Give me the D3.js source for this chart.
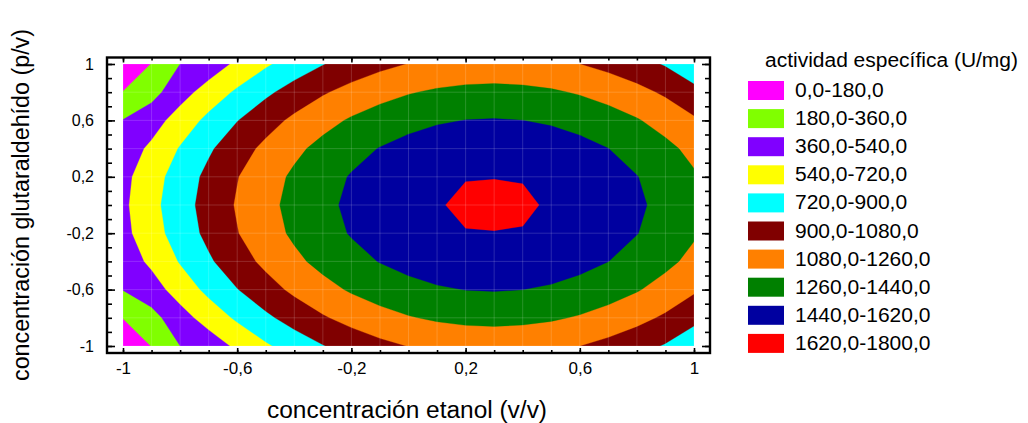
<!DOCTYPE html>
<html>
<head>
<meta charset="utf-8">
<script src="https://cdn.jsdelivr.net/npm/d3@7"></script>
<style>
  html, body { margin: 0; padding: 0; background: #fff; }
  svg { display: block; font-family: "Liberation Sans", Arial, sans-serif; }
</style>
</head>
<body>
<svg id="chart" width="1028" height="423"></svg>
<script>
// Factor levels (coded units) of the response-surface grid
const etanol = [-1, -0.9, -0.8, -0.7, -0.6, -0.5, -0.4, -0.3, -0.2, -0.1, 0,
                0.1, 0.2, 0.3, 0.4, 0.5, 0.6, 0.7, 0.8, 0.9, 1];
const glutaraldehido = [1, 0.8, 0.6, 0.4, 0.2, 0, -0.2, -0.4, -0.6, -0.8, -1];

// Estimated specific activity (U/mg); one row per glutaraldehyde level, one column per ethanol level
const actividad = [
  [30, 185, 360, 439, 574, 695, 801, 893, 971, 1035, 1084, 1119, 1140, 1146, 1138, 1116, 1080, 1029, 964, 885, 791],
  [185, 300, 468, 615, 748, 866, 971, 1062, 1138, 1200, 1249, 1283, 1304, 1310, 1302, 1281, 1245, 1195, 1131, 1053, 945],
  [365, 461, 619, 764, 895, 1012, 1115, 1204, 1280, 1341, 1389, 1423, 1443, 1449, 1441, 1420, 1385, 1336, 1273, 1196, 1105],
  [440, 575, 732, 875, 1004, 1120, 1222, 1310, 1385, 1446, 1493, 1527, 1547, 1553, 1545, 1524, 1489, 1441, 1378, 1302, 1213],
  [490, 646, 802, 944, 1073, 1188, 1289, 1377, 1451, 1512, 1559, 1592, 1617, 1618, 1616, 1589, 1555, 1506, 1444, 1369, 1280],
  [505, 669, 825, 967, 1095, 1210, 1312, 1399, 1473, 1534, 1581, 1614, 1634, 1640, 1632, 1611, 1577, 1528, 1467, 1391, 1302],
  [490, 646, 802, 944, 1073, 1188, 1289, 1377, 1451, 1512, 1559, 1592, 1617, 1618, 1616, 1589, 1555, 1506, 1444, 1369, 1280],
  [440, 575, 732, 875, 1004, 1120, 1222, 1310, 1385, 1446, 1493, 1527, 1547, 1553, 1545, 1524, 1489, 1441, 1378, 1302, 1213],
  [365, 461, 619, 764, 895, 1012, 1115, 1204, 1280, 1341, 1389, 1423, 1443, 1449, 1441, 1420, 1385, 1336, 1273, 1196, 1105],
  [185, 300, 468, 615, 748, 866, 971, 1062, 1138, 1200, 1249, 1283, 1304, 1310, 1302, 1281, 1245, 1195, 1131, 1053, 945],
  [30, 185, 360, 439, 574, 695, 801, 893, 971, 1035, 1084, 1119, 1140, 1146, 1138, 1116, 1080, 1029, 964, 885, 791]
];

// Contour levels and their band colours
const niveles = [0, 180, 360, 540, 720, 900, 1080, 1260, 1440, 1620];
const colores = ["#ff00ff", "#80ff00", "#8000ff", "#ffff00", "#00ffff",
                 "#800000", "#ff8000", "#008000", "#0000a0", "#ff0000"];
const etiquetasLeyenda = ["0,0-180,0", "180,0-360,0", "360,0-540,0", "540,0-720,0", "720,0-900,0",
                          "900,0-1080,0", "1080,0-1260,0", "1260,0-1440,0", "1440,0-1620,0", "1620,0-1800,0"];

// Axis tick labels
const xTicks = [-1, -0.6, -0.2, 0.2, 0.6, 1];
const yTicks = [1, 0.6, 0.2, -0.2, -0.6, -1];

const svg = d3.select("#chart");
const es = d3.formatLocale({decimal: ",", thousands: ".", grouping: [3], currency: ["", "€"], minus: "-"});
const fmt = es.format(".1~f");

// Plot geometry
const x = d3.scaleLinear().domain([-1, 1]).range([123, 694]);
const y = d3.scaleLinear().domain([-1, 1]).range([346, 64]);
const frame = {left: 107, right: 710, top: 57.5, bottom: 353};

// Grid-index scales used to place the contour geometry
const nx = etanol.length, ny = glutaraldehido.length;
const gx = d3.scaleLinear().domain([0.5, nx - 0.5]).range([x(etanol[0]), x(etanol[nx - 1])]);
const gy = d3.scaleLinear().domain([0.5, ny - 0.5]).range([y(glutaraldehido[0]), y(glutaraldehido[ny - 1])]);

const valores = actividad.flat();
const bandas = d3.contours().size([nx, ny]).thresholds(niveles)(valores);

const path = d3.geoPath(d3.geoTransform({
  point(px, py) { this.stream.point(gx(px), gy(py)); }
}));

svg.append("clipPath").attr("id", "area")
  .append("rect")
  .attr("x", x(-1)).attr("y", y(1))
  .attr("width", x(1) - x(-1)).attr("height", y(-1) - y(1));

const plot = svg.append("g").attr("clip-path", "url(#area)");

plot.selectAll("path.banda")
  .data(bandas)
  .join("path")
  .attr("class", "banda")
  .attr("d", path)
  .attr("fill", (d, i) => colores[i])
  .attr("stroke", (d, i) => colores[i])
  .attr("stroke-width", 0.3);

// Faint mesh lines of the evaluation grid
plot.append("g")
  .selectAll("line")
  .data(etanol)
  .join("line")
  .attr("x1", d => x(d)).attr("x2", d => x(d))
  .attr("y1", y(1)).attr("y2", y(-1))
  .attr("stroke", "#ffffff").attr("stroke-opacity", 0.16).attr("stroke-width", 1);
plot.append("g")
  .selectAll("line")
  .data(glutaraldehido)
  .join("line")
  .attr("y1", d => y(d)).attr("y2", d => y(d))
  .attr("x1", x(-1)).attr("x2", x(1))
  .attr("stroke", "#ffffff").attr("stroke-opacity", 0.16).attr("stroke-width", 1);

// Frame
svg.append("rect")
  .attr("x", frame.left).attr("y", frame.top)
  .attr("width", frame.right - frame.left).attr("height", frame.bottom - frame.top)
  .attr("fill", "none").attr("stroke", "#000").attr("stroke-width", 2.4);

// Inward ticks on all four sides
const minor = d3.range(-10, 11).map(d => d / 10);
function ticks(axisFn, scale, values, size, tx, ty) {
  const g = svg.append("g")
    .attr("transform", `translate(${tx},${ty})`)
    .call(axisFn(scale).tickValues(values).tickSize(size).tickFormat(""));
  g.select(".domain").remove();
  g.selectAll(".tick line").attr("stroke", "#000").attr("stroke-width", 1.6);
}
ticks(d3.axisRight, y, minor, 5, frame.left, 0);
ticks(d3.axisRight, y, yTicks, 8, frame.left, 0);
ticks(d3.axisLeft, y, minor, 5, frame.right, 0);
ticks(d3.axisLeft, y, yTicks, 8, frame.right, 0);
ticks(d3.axisBottom, x, minor, 3, 0, frame.top);
ticks(d3.axisBottom, x, xTicks, 5, 0, frame.top);
ticks(d3.axisTop, x, minor, 3, 0, frame.bottom);
ticks(d3.axisTop, x, xTicks, 5, 0, frame.bottom);

// Tick labels
const xl = svg.append("g")
  .attr("transform", `translate(0,${frame.bottom})`)
  .attr("font-size", 17)
  .call(d3.axisBottom(x).tickValues(xTicks).tickSize(0).tickPadding(9).tickFormat(fmt));
xl.attr("font-size", 17).attr("font-family", "Liberation Sans, Arial, sans-serif");
xl.select(".domain").remove();
xl.selectAll("text").style("font-size", "17px").attr("fill", "#000");

const yl = svg.append("g")
  .attr("transform", `translate(${frame.left},0)`)
  .call(d3.axisLeft(y).tickValues(yTicks).tickSize(0).tickPadding(13).tickFormat(fmt));
yl.attr("font-size", 16).attr("font-family", "Liberation Sans, Arial, sans-serif");
yl.select(".domain").remove();
yl.selectAll("text").style("font-size", "16px").attr("fill", "#000");

// Axis titles
svg.append("text")
  .attr("x", 407).attr("y", 418)
  .attr("text-anchor", "middle")
  .attr("font-size", 23)
  .attr("textLength", 280).attr("lengthAdjust", "spacingAndGlyphs")
  .text("concentración etanol (v/v)");

svg.append("text")
  .attr("transform", "translate(29,205) rotate(-90)")
  .attr("text-anchor", "middle")
  .attr("font-size", 23)
  .attr("textLength", 352).attr("lengthAdjust", "spacingAndGlyphs")
  .text("concentración glutaraldehído (p/v)");

// Legend
const leg = svg.append("g").attr("transform", "translate(748,0)");
leg.append("text")
  .attr("x", 17).attr("y", 67)
  .attr("font-size", 20)
  .attr("textLength", 253).attr("lengthAdjust", "spacingAndGlyphs")
  .text("actividad específica (U/mg)");

const item = leg.selectAll("g.item")
  .data(etiquetasLeyenda)
  .join("g")
  .attr("class", "item")
  .attr("transform", (d, i) => `translate(0,${81 + i * 28.1})`);
item.append("rect")
  .attr("width", 36).attr("height", 19)
  .attr("fill", (d, i) => colores[i]);
item.append("text")
  .attr("x", 47).attr("y", 16)
  .attr("font-size", 20)
  .text(d => d)
  .each(function() {
    const w = this.getComputedTextLength();
    d3.select(this).attr("textLength", w * 1.05).attr("lengthAdjust", "spacingAndGlyphs");
  });
</script>
</body>
</html>
